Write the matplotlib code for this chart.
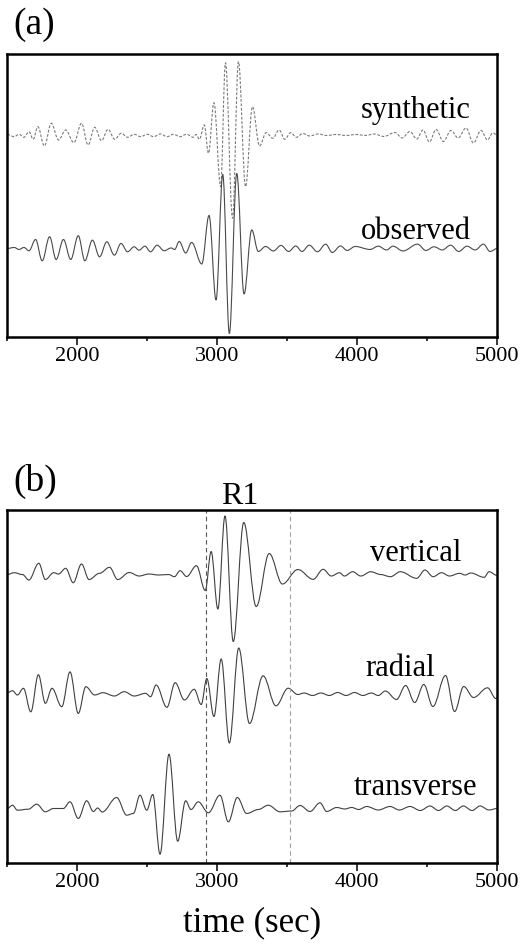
import matplotlib.pyplot as plt
from matplotlib.patches import PathPatch
from matplotlib.path import Path
from matplotlib.ticker import MultipleLocator

# turning points of each seismogram: time (s) and amplitude (about 1 px per unit)
syn_t = [1500, 1549, 1584, 1619, 1655, 1685, 1718, 1765, 1814, 1866, 1917, 1976,
         2030, 2077, 2124, 2173, 2220, 2267, 2314, 2359, 2406, 2453, 2499, 2546,
         2593, 2641, 2687, 2734, 2781, 2828, 2849, 2872, 2907, 2937, 2976, 3024,
         3058, 3109, 3151, 3202, 3251, 3302, 3349, 3396, 3442, 3482, 3524, 3565,
         3610, 3660, 3720, 3780, 3850, 3920, 3990, 4060, 4120, 4190, 4269, 4320,
         4376, 4425, 4469, 4515, 4562, 4615, 4669, 4720, 4776, 4830, 4883, 4930,
         4967, 5000]
syn_a = [0.5, -1.7, 0.7, -2.3, 3.3, -4.3, 8.3, -11, 11.7, -5, 5, -7.7,
         11.7, -10, 7.7, -5.7, 5.7, -4.3, 1.7, -2.3, 0.7, -1.7, 0.7, -1.7,
         1, -1.7, 0.7, -1.7, 0.7, -2.3, 0.5, -4.3, 10, -18.3, 32.3, -51.7,
         72.3, -83.3, 73.3, -51.7, 28.3, -11, 2.3, -3.3, 5, -4.3, 2.3, -2.3,
         1.5, -1, 1, -0.5, 0.5, -0.5, 0.5, -0.5, 1, -1.5, 2.5, -3,
         3.5, -4, 5, -7, 5.5, -6.5, 4.5, -3, 7, -8, 4.5, -5,
         2, 0]

obs_t = [1500, 1549, 1584, 1619, 1655, 1702, 1749, 1802, 1849, 1901, 1953, 2007,
         2054, 2108, 2159, 2211, 2265, 2312, 2359, 2406, 2441, 2483, 2523, 2570,
         2620, 2670, 2695, 2728, 2774, 2817, 2889, 2941, 2991, 3039, 3086, 3139,
         3191, 3246, 3293, 3345, 3400, 3455, 3510, 3560, 3605, 3657, 3715, 3774,
         3821, 3880, 3927, 3985, 4091, 4150, 4208, 4255, 4326, 4430, 4490, 4548,
         4607, 4666, 4725, 4783, 4842, 4901, 4948, 5000]
obs_a = [0, 1, -1, 1, -2.3, 9, -12.3, 11.7, -11, 9, -11, 12.7,
         -12.3, 8.3, -8.3, 6.7, -6.7, 5, -3.3, 1.7, -1.7, 2.3, -3.3, 3.3,
         -2.3, 0.5, -1, 7, -4.5, 6, -15.5, 33, -51.5, 74, -85, 75,
         -45.5, 18.5, -3, 2, -2.5, 3, -3, 2.5, -3, 3.3, -3.3, 4.3,
         -4, 2.5, -2, 2, -1, 2.3, -1.5, 2.3, -2.5, 4.3, -2, 1.7,
         -1.5, 3.3, -3, 2.3, -1.5, 4.3, -3, 0]

vert_t = [1500, 1549, 1608, 1654, 1725, 1772, 1831, 1866, 1917, 1971, 2030, 2084,
          2159, 2230, 2289, 2371, 2441, 2511, 2581, 2652, 2694, 2734, 2781, 2851,
          2914, 2956, 3004, 3055, 3114, 3189, 3278, 3371, 3465, 3575, 3685, 3756,
          3814, 3873, 3908, 3967, 4025, 4096, 4166, 4237, 4307, 4424, 4483, 4542,
          4600, 4659, 4730, 4770, 4810, 4906, 4941, 5000]
vert_a = [0, 1.8, 0, -5.5, 11.2, -5, 1.8, 0.5, 6.2, -8.2, 10.5, -5,
          1.2, 7.2, -5, 2, -1.5, 0.5, -0.5, 0, -2.2, 3.8, -2, 8.8,
          -16, 23, -34.5, 58.5, -67, 52, -32, 21, -9.5, 5, -4.8, 5.2,
          -1.5, 1.8, -1.5, 2.8, -1.5, 2.8, 0, -2.2, 2.8, -3.8, 4.5, -2.2,
          1.8, -1.5, 1.2, -0.5, 1.5, -2.8, 2.8, -1]

rad_t = [1500, 1537, 1572, 1615, 1668, 1722, 1772, 1819, 1889, 1948, 2007, 2061,
         2124, 2183, 2265, 2335, 2406, 2488, 2523, 2563, 2640, 2699, 2765, 2835,
         2885, 2925, 2976, 3028, 3086, 3153, 3230, 3327, 3419, 3506, 3575, 3620,
         3680, 3740, 3800, 3860, 3920, 3980, 4040, 4100, 4150, 4200, 4280, 4345,
         4410, 4475, 4540, 4630, 4695, 4760, 4830, 4930, 4990, 5000]
rad_a = [1.8, 3.8, -0.5, 6.2, -17.3, 19.8, -8.8, 6.2, -12.2, 22.6, -18.9, 7.8,
         -0.5, 1.8, -1.5, 2.8, -1.5, 1.2, -2.2, 9.5, -12.8, 11.8, -5.5, 5.2,
         -10, 16, -22, 35.5, -48.5, 46.5, -29, 18.7, -11.3, 6.3, 0, 1.5,
         -1, 1.5, -1, 2, -1, 2, -1, 1.5, -1, 3.5, -5, 9,
         -8, 10, -12, 19, -17, 8, -3, 6.7, -4, -3]

trans_t = [1500, 1537, 1572, 1650, 1710, 1772, 1830, 1900, 1948, 2007, 2067, 2115,
           2145, 2178, 2281, 2353, 2400, 2448, 2496, 2539, 2591, 2655, 2717, 2774,
           2812, 2864, 2936, 3019, 3079, 3143, 3210, 3293, 3364, 3448, 3531, 3591,
           3662, 3734, 3781, 3853, 3910, 3960, 4010, 4067, 4150, 4234, 4300, 4376,
           4450, 4519, 4580, 4639, 4700, 4757, 4820, 4877, 4940, 5000]
trans_a = [0, 3.3, -1.7, -0.7, 4.3, -3.3, 0, 0, 6.7, -10, 7.7, -3,
           0.5, -3.5, 11, -6.7, -5, 13.3, -1.7, 14, -45.7, 54.3, -32.7, 7.7,
           -1, 6.7, -4.3, 13.3, -13.3, 11, -5, -1, 3.3, -3.3, -2.5, 3,
           -3, 5.7, -3, 1, -0.5, 1, -1, 2, -1.5, 2, -1.5, 2,
           -2, 2.5, -2, 2.5, -2, 2.5, -2, 2.5, -1.5, 0]

r1_window = [2920, 3520]
t_range = [1500, 5000]

plt.rcParams["font.family"] = ["Liberation Serif", "DejaVu Serif"]


def trace(ax, t, a, base, **style):
    # cubic pieces with flat tangents at every turning point
    verts = [(t[0], base + a[0])]
    codes = [Path.MOVETO]
    for i in range(1, len(t)):
        step = (t[i] - t[i - 1]) * 0.36
        verts += [(t[i - 1] + step, base + a[i - 1]),
                  (t[i] - step, base + a[i]),
                  (t[i], base + a[i])]
        codes += [Path.CURVE4] * 3
    ax.add_patch(PathPatch(Path(verts, codes), fill=False, **style))


def frame(ax, height):
    ax.set_xlim(*t_range)
    ax.set_ylim(0, height)
    ax.xaxis.set_major_locator(MultipleLocator(1000))
    ax.xaxis.set_minor_locator(MultipleLocator(500))
    ax.tick_params(axis="x", which="major", direction="out", length=6,
                   width=1.1, labelsize=16, pad=1)
    ax.tick_params(axis="x", which="minor", direction="out", length=3,
                   width=1.1)
    ax.set_yticks([])
    for sp in ax.spines.values():
        sp.set_linewidth(1.8)


fig = plt.figure(figsize=(5.31, 9.49), dpi=100)
ax_a = fig.add_axes([0.01375, 0.6444, 0.9228, 0.2982])
ax_b = fig.add_axes([0.01375, 0.0901, 0.9228, 0.3730])

# panel (a)
frame(ax_a, 283)
trace(ax_a, syn_t, syn_a, 202.5, edgecolor="#7a7a7a", linewidth=0.8,
      linestyle=(0, (2.5, 1.5)))
trace(ax_a, obs_t, obs_a, 89, edgecolor="#4a4a4a", linewidth=0.8)
ax_a.text(4419, 219, "synthetic", fontsize=22, ha="center", va="baseline")
ax_a.text(4419, 98, "observed", fontsize=22, ha="center", va="baseline")

# panel (b)
frame(ax_b, 354)
for tw, col in zip(r1_window, ["#555555", "#a0a0a0"]):
    ax_b.axvline(tw, color=col, linewidth=0.8, linestyle=(0, (4, 3)))
trace(ax_b, vert_t, vert_a, 289, edgecolor="#404040", linewidth=0.8)
trace(ax_b, rad_t, rad_a, 169, edgecolor="#404040", linewidth=0.8)
trace(ax_b, trans_t, trans_a, 55, edgecolor="#404040", linewidth=0.8)
ax_b.text(4419, 302.5, "vertical", fontsize=22, ha="center", va="baseline")
ax_b.text(4305, 187.5, "radial", fontsize=22, ha="center", va="baseline")
ax_b.text(4419, 68.5, "transverse", fontsize=22, ha="center", va="baseline")
ax_b.text(sum(r1_window) / 2 - 60, 360, "R1", fontsize=23, ha="center",
          va="baseline")
ax_b.set_xlabel("time (sec)", fontsize=25, labelpad=10)

fig.text(0.0245, 0.9737, "(a)", fontsize=27, ha="left", va="center")
fig.text(0.0245, 0.4932, "(b)", fontsize=27, ha="left", va="center")

fig.savefig("out.png", dpi=100)
